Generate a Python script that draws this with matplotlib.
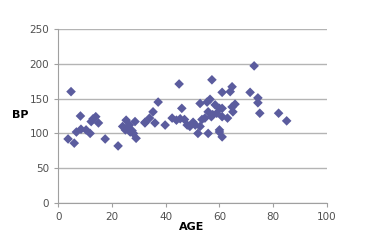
import matplotlib.pyplot as plt

# age / blood pressure
age = [3.7, 4.8, 6, 6.8, 8.3, 8.5, 10.4, 11.9, 12.3, 13, 14, 15, 17.5, 22.3,
       24, 25, 25.3, 26, 26.5, 26.8, 27.5, 28, 28.6, 29, 32.3, 32.3, 34, 35.3,
       36, 37.2, 39.8, 42.4, 44, 45, 45.4, 46, 47, 48, 49, 50.2, 51, 52, 52.8,
       52.8, 53.5, 54.6, 55.4, 55.8, 55.8, 56.5, 57, 57.2, 57.5, 58.4, 59, 60,
       60, 60, 61, 61, 61, 61, 63, 64, 64.7, 64.7, 65, 65.8, 71.4, 72.9, 74.3,
       74.3, 75, 82, 85]
bp = [92, 160, 86, 102, 125, 106, 105, 100, 117, 121, 124, 115, 92, 82,
      110, 105, 119, 108, 112, 102, 104, 100, 117, 93, 115, 116, 122, 131,
      115, 145, 112, 122, 119, 171, 121, 136, 120, 112, 110, 116, 112, 100, 143,
      110, 120, 122, 145, 100, 131, 149, 124, 177, 127, 141, 129, 136, 102, 105,
      159, 95, 124, 136, 122, 160, 167, 138, 131, 142, 159, 197, 151, 144, 129,
      129, 118]

fig = plt.figure(figsize=(3.75, 2.5), dpi=100)
ax = fig.add_axes([0.155, 0.188, 0.717, 0.696])

ax.scatter(age, bp, marker='D', s=24, color='#5b5c9e', edgecolors='none', zorder=3)

ax.set_xlim(0, 100)
ax.set_ylim(0, 250)
ax.set_xticks(range(0, 101, 20))
ax.set_yticks(range(0, 251, 50))
ax.yaxis.grid(True, color='#b4b4b4', linewidth=1)
ax.set_axisbelow(True)
for s in ['top', 'right']:
    ax.spines[s].set_visible(False)
for s in ['left', 'bottom']:
    ax.spines[s].set_color('#a0a0a0')
ax.tick_params(axis='both', labelsize=7.5, colors='#a0a0a0', labelcolor='#505050', length=3)

fig.text(0.053, 0.54, 'BP', fontsize=8, fontweight='bold', ha='center', va='center')
fig.text(0.512, 0.092, 'AGE', fontsize=8, fontweight='bold', ha='center', va='center')

plt.savefig('out.png', dpi=100)
